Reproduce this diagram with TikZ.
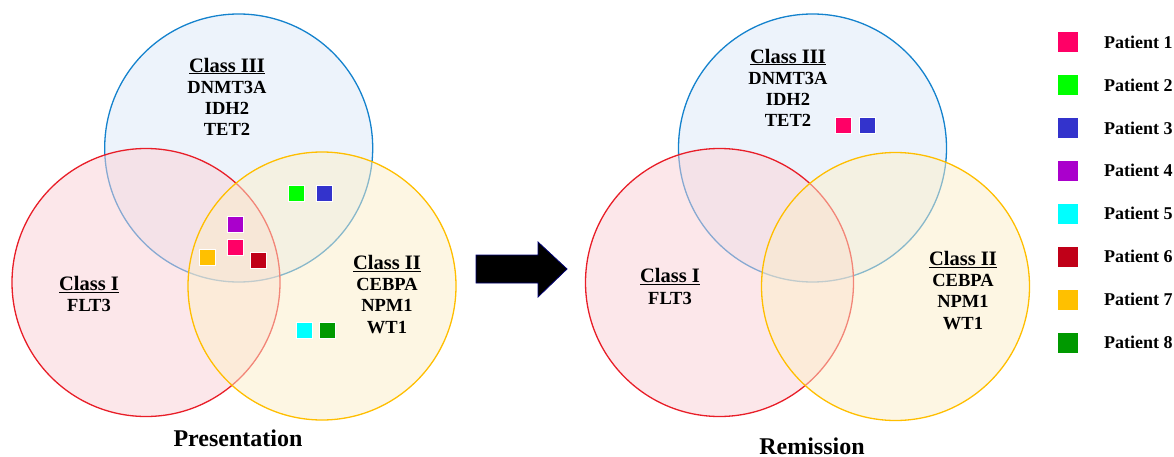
\documentclass[tikz,border=0pt]{standalone}
\usepackage{fontspec}
\setmainfont{Liberation Serif}
\definecolor{cblue}{RGB}{20,130,205}
\definecolor{cred}{RGB}{232,30,40}
\definecolor{cyel}{RGB}{255,190,0}
\definecolor{fblue}{RGB}{220,232,248}
\definecolor{fred}{RGB}{250,208,214}
\definecolor{fyel}{RGB}{252,238,200}
\definecolor{p1}{RGB}{255,0,102}
\definecolor{p2}{RGB}{0,255,0}
\definecolor{p3}{RGB}{51,51,204}
\definecolor{p4}{RGB}{170,0,204}
\definecolor{p5}{RGB}{0,255,255}
\definecolor{p6}{RGB}{192,0,24}
\definecolor{p7}{RGB}{255,192,0}
\definecolor{p8}{RGB}{0,153,0}
\tikzset{
  venn/.style={circle, minimum size=268pt, inner sep=0pt, line width=1.3pt, fill opacity=0.5, draw opacity=1},
  vblue/.style={venn, draw=cblue, fill=fblue},
  vred/.style={venn, draw=cred, fill=fred},
  vyel/.style={venn, draw=cyel, fill=fyel},
  lab/.style={align=center, inner sep=0pt, anchor=base, font=\bfseries\fontsize{18.5}{21.3}\selectfont},
  ttl/.style={inner sep=0pt, anchor=base, font=\bfseries\fontsize{24}{28}\selectfont},
  sq/.style={rectangle, minimum size=16.5pt, inner sep=0pt, draw=white, line width=0.3pt},
  lsq/.style={rectangle, minimum size=21pt, inner sep=0pt, draw=white, line width=0.3pt},
  ltx/.style={inner sep=0pt, anchor=base west, font=\bfseries\fontsize{18}{21}\selectfont},
}
\newcommand{\cls}[1]{{\fontsize{20.5}{21.3}\selectfont\underline{#1}}}
\begin{document}
\begin{tikzpicture}[x=1pt,y=-1pt]
\useasboundingbox (0,0) rectangle (1174,457);
% left venn
\node[vblue] (lb) at (238.7,148) {};
\node[vred] (lr) at (146,282.5) {};
\node[vyel] (ly) at (322,286) {};
\node[lab] (l3) at (227,136) {\cls{Class III}\\DNMT3A\\IDH2\\TET2};
\node[lab] (l1) at (89,311.7) {\cls{Class I}\\FLT3};
\node[lab] (l2) at (387,333) {\cls{Class II}\\CEBPA\\NPM1\\WT1};
\node[ttl] (lt) at (238,446.7) {Presentation};
\node[sq, fill=p2] (s2) at (296,193) {};
\node[sq, fill=p3] (s3) at (324,193) {};
\node[sq, fill=p4] (s4) at (235,224) {};
\node[sq, fill=p1] (s1) at (235,247) {};
\node[sq, fill=p7] (s7) at (207,257) {};
\node[sq, fill=p6] (s6) at (258,260) {};
\node[sq, fill=p5] (s5) at (304,330) {};
\node[sq, fill=p8] (s8) at (327,330) {};
% arrow
\draw[fill=black, draw=blue!45!black, line width=0.8pt]
  (476,255) -- (538,255) -- (538,242) -- (567,269) -- (538,297) -- (538,283) -- (476,283) -- cycle;
% right venn
\node[vblue] (rb) at (812.5,148) {};
\node[vred] (rr) at (719.5,282.5) {};
\node[vyel] (ry) at (895.5,286.5) {};
\node[lab] (r3) at (788,127) {\cls{Class III}\\DNMT3A\\IDH2\\TET2};
\node[lab] (r1) at (670,304) {\cls{Class I}\\FLT3};
\node[lab] (r2) at (963,329) {\cls{Class II}\\CEBPA\\NPM1\\WT1};
\node[ttl] (rt) at (812,454) {Remission};
\node[sq, fill=p1] (t1) at (843,125) {};
\node[sq, fill=p3] (t3) at (867,125) {};
% legend
\foreach \i in {1,...,8} {
  \node[lsq, fill=p\i] (g\i) at (1067.5,{42+42.9*(\i-1)}) {};
  \node[ltx] (h\i) at (1104,{48.3+42.9*(\i-1)}) {Patient \i};
}
\end{tikzpicture}
\end{document}
